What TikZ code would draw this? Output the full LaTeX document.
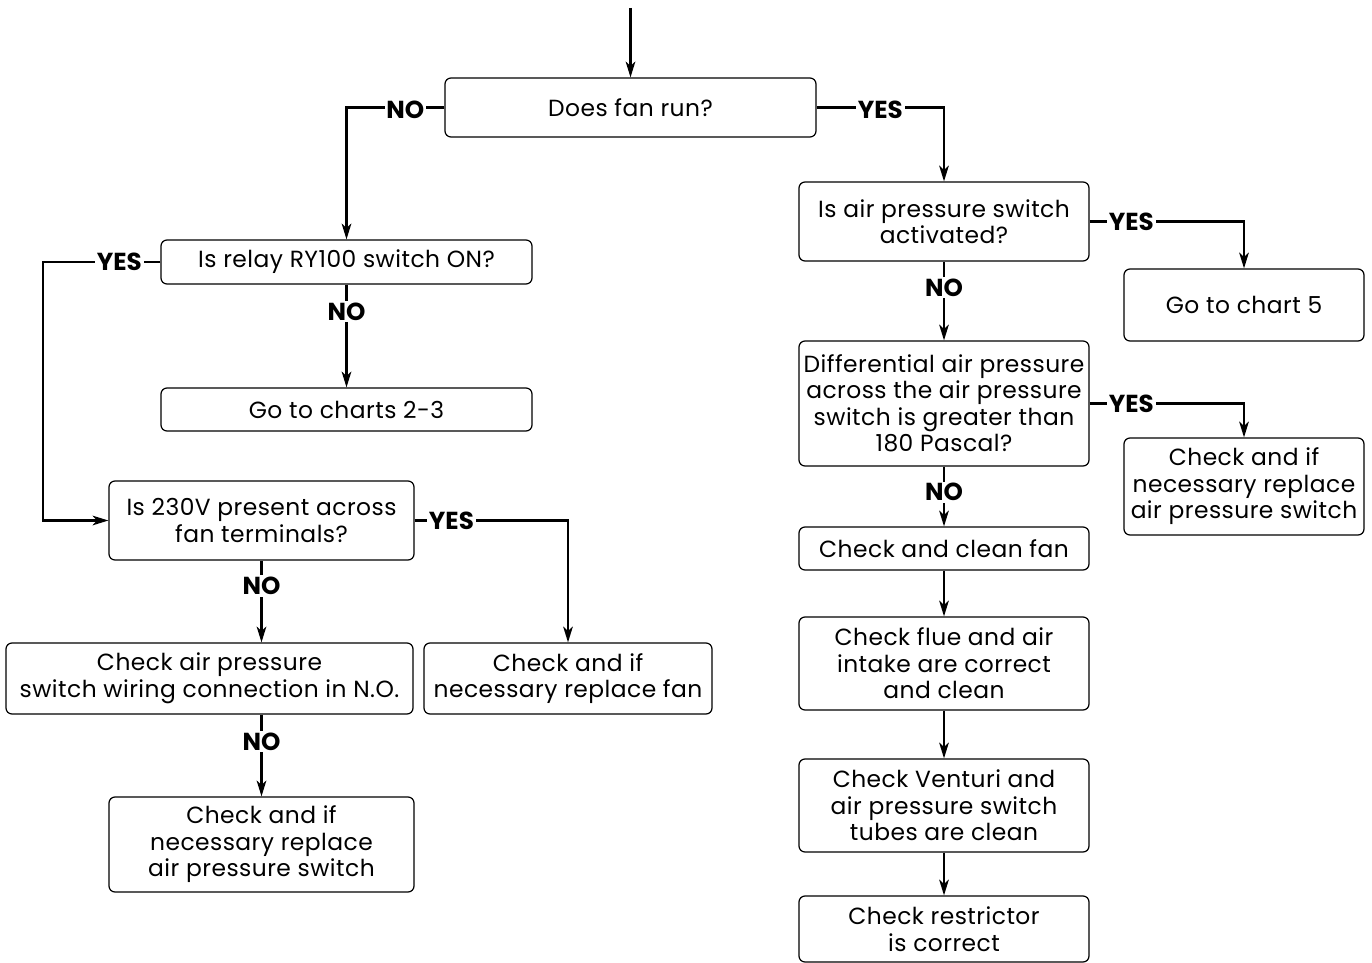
\documentclass[tikz,border=0pt]{standalone}
\usepackage{fontspec}
\setmainfont[LetterSpace=2]{Poppins}
\newfontfamily\labfont[LetterSpace=0]{Poppins}
\usetikzlibrary{arrows.meta}
\newlength\pxu
\setlength\pxu{0.02cm}
\begin{document}
\begin{tikzpicture}[x=0.02cm,y=-0.02cm,
  box/.style={draw, line width=0.7pt, rounded corners=0.12cm, align=center,
    font=\fontsize{13.3}{15.1}\selectfont, inner sep=0pt},
  lab/.style={fill=white, font=\labfont\bfseries\fontsize{14}{15}\selectfont, inner sep=1pt},
  hlab/.style={lab, yshift=-2.5\pxu},
  conn/.style={line width=1.2pt},
  arr/.style={conn, -{Stealth[length=9pt,width=5.5pt,inset=2.5pt]}}]
\useasboundingbox (0,0) rectangle (1372,963);

% left side
\node[box, minimum width=371\pxu, minimum height=59\pxu] (b1) at (630.5,107.5) {Does fan run?};
\node[box, minimum width=371\pxu, minimum height=44\pxu] (b2) at (346.5,262) {Is relay RY100 switch ON?};
\node[box, minimum width=371\pxu, minimum height=43\pxu] (b3) at (346.5,409.5) {Go to charts 2-3};
\node[box, minimum width=305\pxu, minimum height=79\pxu] (b4) at (261.5,520.5) {Is 230V present across\\fan terminals?};
\node[box, minimum width=407\pxu, minimum height=71\pxu] (b5) at (209.5,678.5) {Check air pressure\\switch wiring connection in N.O.};
\node[box, minimum width=288\pxu, minimum height=71\pxu] (b6) at (568,678.5) {Check and if\\necessary replace fan};
\node[box, minimum width=305\pxu, minimum height=95\pxu] (b7) at (261.5,844.5) {Check and if\\necessary replace\\air pressure switch};

% right side
\node[box, minimum width=290\pxu, minimum height=79\pxu] (b8) at (944,221.5) {Is air pressure switch\\activated?};
\node[box, minimum width=240\pxu, minimum height=72\pxu] (b9) at (1244,305) {Go to chart 5};
\node[box, minimum width=290\pxu, minimum height=125\pxu] (b10) at (944,403.5) {Differential air pressure\\across the air pressure\\switch is greater than\\180 Pascal?};
\node[box, minimum width=240\pxu, minimum height=97\pxu] (b11) at (1244,486.5) {Check and if\\necessary replace\\air pressure switch};
\node[box, minimum width=290\pxu, minimum height=43\pxu] (b12) at (944,548.5) {Check and clean fan};
\node[box, minimum width=290\pxu, minimum height=93\pxu] (b13) at (944,663.5) {Check flue and air\\intake are correct\\and clean};
\node[box, minimum width=290\pxu, minimum height=93\pxu] (b14) at (944,805.5) {Check Venturi and\\air pressure switch\\tubes are clean};
\node[box, minimum width=290\pxu, minimum height=66\pxu] (b15) at (944,929) {Check restrictor\\is correct};

\coordinate (top) at (630.5,8);
\coordinate (c1) at (43,262);

% connectors
\draw[arr] (top) -- (b1.north);
\draw[arr] (b1.west) -| node[hlab, pos=0.2] (n1) {NO} (b2.north);
\draw[arr] (b1.east) -| node[hlab, pos=0.25] (y1) {YES} (b8.north);
\draw[arr] (b2.west) -- node[lab, pos=0.35] (y2) {YES} (c1) |- (b4.west);
\draw[arr] (b2.south) -- node[lab, pos=0.26] (n2) {NO} (b3.north);
\draw[arr] (b4.east) -| node[lab, pos=0.12] (y3) {YES} (b6.north);
\draw[arr] (b4.south) -- node[lab, pos=0.31] (n3) {NO} (b4.south |- b5.north);
\draw[arr] (b7.north |- b5.south) -- node[lab, pos=0.33] (n4) {NO} (b7.north);
\draw[arr] (b8.east) -| node[lab, pos=0.135] (y4) {YES} (b9.north);
\draw[arr] (b8.south) -- node[lab, pos=0.33] (n5) {NO} (b10.north);
\draw[arr] (b10.east) -| node[lab, pos=0.135] (y5) {YES} (b11.north);
\draw[arr] (b10.south) -- node[lab, pos=0.43] (n6) {NO} (b12.north);
\draw[arr] (b12.south) -- (b13.north);
\draw[arr] (b13.south) -- (b14.north);
\draw[arr] (b14.south) -- (b15.north);
\end{tikzpicture}
\end{document}
